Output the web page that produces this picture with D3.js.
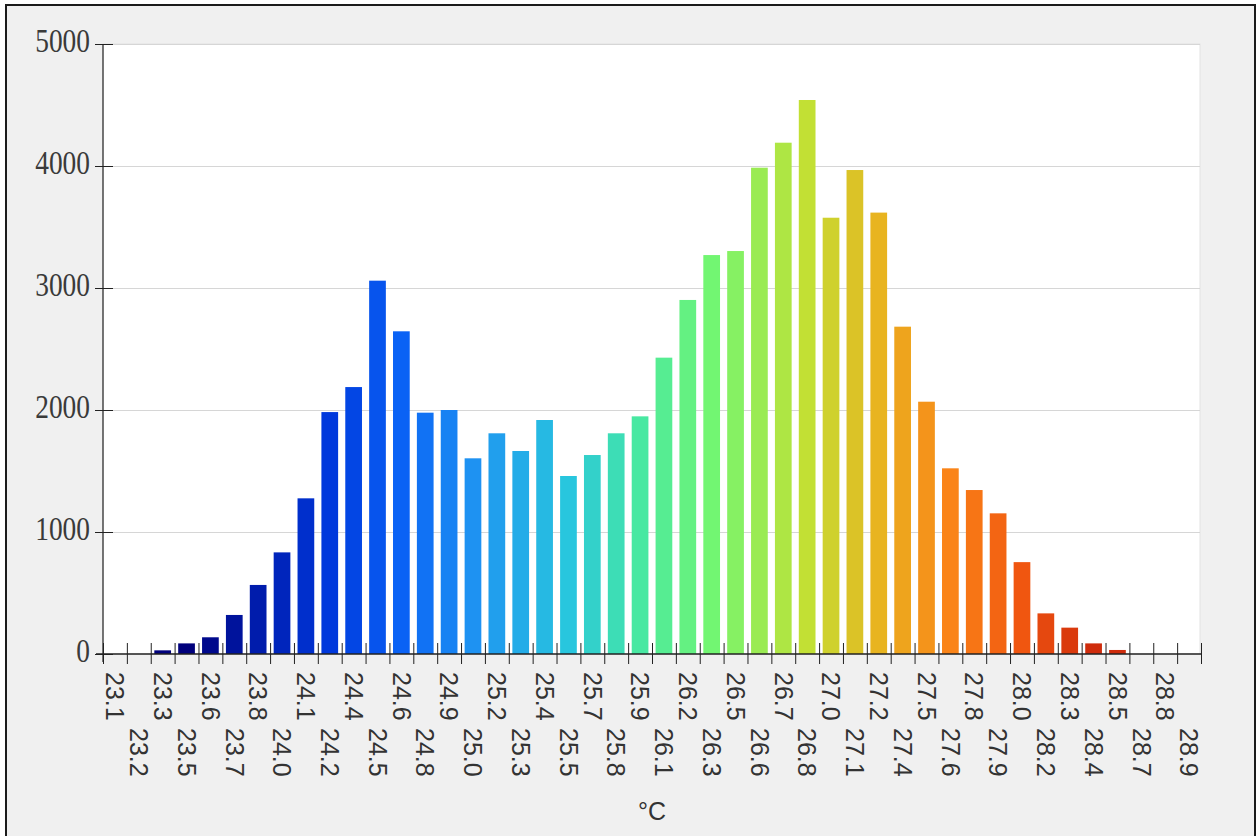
<!DOCTYPE html>
<html>
<head>
<meta charset="utf-8">
<script src="https://cdn.jsdelivr.net/npm/d3@7"></script>
<style>
  body { margin: 0; background: #ffffff; }
  svg { display: block; }
</style>
</head>
<body>
<div id="chart"></div>
<script>
// temperature bins (labels as shown on the axis)
var tempLabels = ["23.1","23.2","23.3","23.5","23.6","23.7","23.8","24.0","24.1","24.2",
                  "24.4","24.5","24.6","24.8","24.9","25.0","25.2","25.3","25.4","25.5",
                  "25.7","25.8","25.9","26.1","26.2","26.3","26.5","26.6","26.7","26.8",
                  "27.0","27.1","27.2","27.4","27.5","27.6","27.8","27.9","28.0","28.2",
                  "28.3","28.4","28.5","28.7","28.8","28.9"];
// counts per bin
var counts = [0, 0, 30, 87, 137, 320, 566, 833, 1276, 1983,
              2188, 3060, 2645, 1978, 2000, 1604, 1809, 1664, 1918, 1459,
              1631, 1809, 1948, 2429, 2902, 3270, 3303, 3986, 4191, 4541,
              3576, 3967, 3618, 2683, 2068, 1522, 1344, 1153, 753, 333,
              216, 87, 33, 0, 0, 0];
var yTicks = [0, 1000, 2000, 3000, 4000, 5000];
var xTitle = "°C";

var W = 1259, H = 836;
var plotL = 103, plotR = 1201, plotT = 44, plotB = 654;

var svg = d3.select("#chart").append("svg")
    .attr("width", W)
    .attr("height", H);

// frame
svg.append("rect")
    .attr("x", 6).attr("y", 5)
    .attr("width", 1249).attr("height", 845)
    .attr("fill", "#f0f0f0")
    .attr("stroke", "#1b1b1b")
    .attr("stroke-width", 2);

// plot background
svg.append("rect")
    .attr("x", plotL).attr("y", plotT)
    .attr("width", plotR - plotL - 1).attr("height", plotB - plotT)
    .attr("fill", "#ffffff")
    .attr("stroke", "#e2e2e2")
    .attr("stroke-width", 1);

var x = d3.scaleBand()
    .domain(tempLabels)
    .range([plotL, plotR])
    .paddingInner(0.3)
    .paddingOuter(0.15);

// bin edges for the tick marks
var xEdge = d3.scaleLinear()
    .domain([0, tempLabels.length])
    .range([plotL, plotR]);

var y = d3.scaleLinear()
    .domain([0, 5000])
    .range([plotB, plotT]);

var color = d3.scaleLinear()
    .domain([3, 9, 12, 15, 19, 22, 25, 29, 32, 35, 38, 41])
    .range(["#00007c", "#0038dc", "#0a62f5", "#1e92f2", "#28c6de", "#48e8a2",
            "#72f672", "#c2e034", "#e8b420", "#fa8418", "#f05610", "#cf2c0c"])
    .clamp(true);

// gridlines
svg.append("g")
    .attr("transform", "translate(" + plotL + ",0)")
    .call(d3.axisLeft(y).tickValues(yTicks.slice(1)).tickSize(-(plotR - plotL - 1)).tickFormat(""))
    .call(function (g) { g.select(".domain").remove(); })
    .selectAll("line")
    .attr("stroke", "#d6d6d6");

// bars
svg.append("g")
    .selectAll("rect")
    .data(counts)
    .enter()
    .append("rect")
    .attr("x", function (d, i) { return x(tempLabels[i]); })
    .attr("width", x.bandwidth())
    .attr("y", function (d) { return y(d); })
    .attr("height", function (d) { return plotB - y(d); })
    .attr("fill", function (d, i) { return color(i); });

// y axis
var yAxis = svg.append("g")
    .attr("transform", "translate(" + plotL + ",0)")
    .call(d3.axisLeft(y).tickValues(yTicks).tickSize(8).tickSizeOuter(0).tickPadding(0).tickFormat(d3.format("d")));
yAxis.select(".domain").remove();
yAxis.selectAll(".tick line")
    .attr("x1", 10)
    .attr("stroke", "#222");
yAxis.selectAll(".tick text")
    .attr("font-family", "'Liberation Serif', 'Times New Roman', serif")
    .attr("font-size", 33)
    .attr("fill", "#3a3a3a")
    .attr("transform", "scale(0.83,1)")
    .attr("x", -13 / 0.83)
    .attr("dy", "0.24em");
svg.append("line")
    .attr("x1", plotL).attr("x2", plotL)
    .attr("y1", y(5000)).attr("y2", plotB + 8)
    .attr("stroke", "#222").attr("stroke-width", 1.2);

// x axis: tick marks at bin edges
var xTicks = svg.append("g")
    .attr("transform", "translate(0," + plotB + ")")
    .call(d3.axisBottom(xEdge).tickValues(d3.range(tempLabels.length + 1)).tickSize(10).tickSizeOuter(0).tickFormat(""));
xTicks.select(".domain").remove();
xTicks.selectAll(".tick line")
    .attr("y1", -11)
    .attr("stroke", "#222");
svg.append("line")
    .attr("x1", plotL - 7).attr("x2", plotR)
    .attr("y1", plotB).attr("y2", plotB)
    .attr("stroke", "#222").attr("stroke-width", 1.5);

// x labels, rotated and staggered in two rows
svg.append("g")
    .selectAll("text")
    .data(tempLabels)
    .enter()
    .append("text")
    .attr("transform", function (d, i) {
        var yy = (i % 2 === 0) ? 672 : 728;
        return "translate(" + (x(d) + x.bandwidth() / 2) + "," + yy + ") rotate(90)";
    })
    .attr("dy", "0.35em")
    .attr("font-family", "'Liberation Sans', Arial, sans-serif")
    .attr("font-size", 25)
    .attr("fill", "#333")
    .text(function (d) { return d; });

// axis title
svg.append("text")
    .attr("x", (plotL + plotR) / 2)
    .attr("y", 820)
    .attr("text-anchor", "middle")
    .attr("font-family", "'Liberation Sans', Arial, sans-serif")
    .attr("font-size", 25)
    .attr("fill", "#333")
    .text(xTitle);
</script>
</body>
</html>
